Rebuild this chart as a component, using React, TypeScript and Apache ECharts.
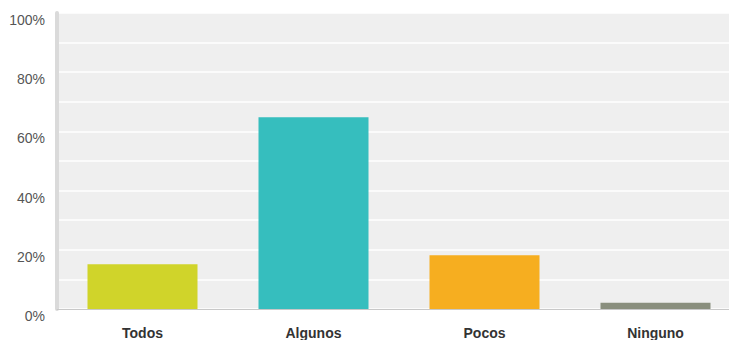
import React, { useEffect, useRef } from "react";
import * as echarts from "echarts";

const categories = ["Todos", "Algunos", "Pocos", "Ninguno"];
const values = [15.1, 64.8, 18.2, 2.1];
const barColors = ["#d0d42a", "#36bebe", "#f6ae20", "#8a8f7e"];
const yTicks = [0, 20, 40, 60, 80, 100];

export default function App() {
  const ref = useRef<HTMLDivElement>(null);
  useEffect(() => {
    if (!ref.current) return;
    const chart = echarts.init(ref.current, null, { renderer: "svg" });
    chart.setOption({
      animation: false,
      grid: {
        left: 57,
        right: 0,
        top: 13,
        bottom: 31,
        show: true,
        backgroundColor: "#efefef",
        borderWidth: 0,
      },
      xAxis: {
        type: "category",
        data: categories,
        axisLine: { show: true, lineStyle: { color: "#c8c8c8", width: 1 } },
        axisTick: { show: false },
        axisLabel: {
          fontFamily: "Liberation Sans, Arial, sans-serif",
          fontSize: 14,
          fontWeight: "bold",
          color: "#333",
          margin: 17,
        },
      },
      yAxis: {
        type: "value",
        min: yTicks[0],
        max: yTicks[yTicks.length - 1],
        interval: 20,
        axisLine: { show: true, lineStyle: { color: "#dadada", width: 4 } },
        axisTick: { show: false },
        axisLabel: {
          formatter: "{value}%",
          fontFamily: "Liberation Sans, Arial, sans-serif",
          fontSize: 14,
          color: "#555",
          margin: 12,
          verticalAlign: "top",
        },
        splitLine: { show: true, lineStyle: { color: "#ffffff", width: 1.5 } },
        minorTick: { show: false, splitNumber: 2 },
        minorSplitLine: { show: true, lineStyle: { color: "#ffffff", width: 1.5 } },
      },
      series: [
        {
          type: "bar",
          data: values.map((v, i) => ({ value: v, itemStyle: { color: barColors[i] } })),
          barWidth: 110,
        },
      ],
    });
    return () => chart.dispose();
  }, []);
  return (
    <div style={{ position: "absolute", left: 0, top: 0, width: 729, height: 340, overflow: "hidden", background: "#fff" }}>
      <div ref={ref} style={{ width: 741, height: 340 }} />
    </div>
  );
}
